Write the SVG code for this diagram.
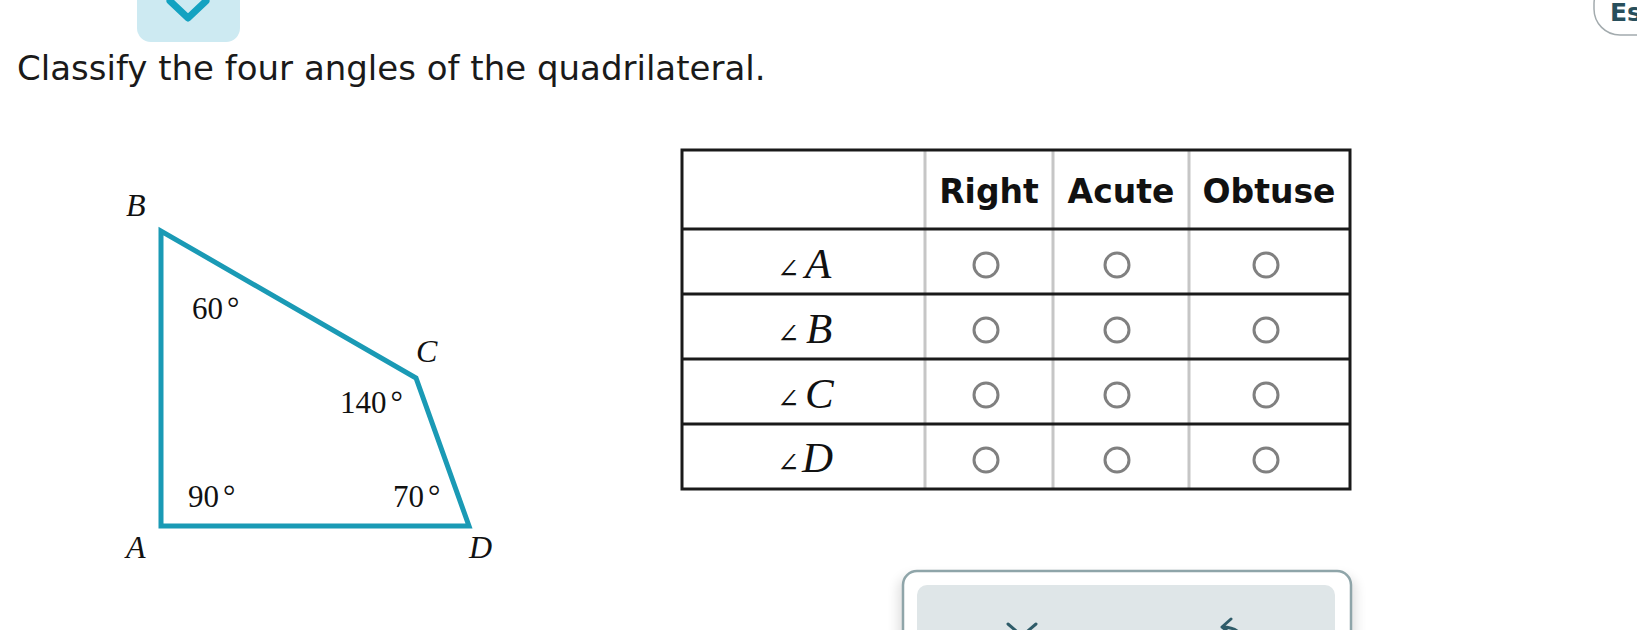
<svg xmlns="http://www.w3.org/2000/svg" width="1637" height="630" viewBox="0 0 1637 630">
<style>
.title{font-family:"DejaVu Sans","Verdana",sans-serif;font-size:34px;fill:#1a1a1a}
.hdr{font-family:"DejaVu Sans","Verdana",sans-serif;font-size:33px;font-weight:bold;fill:#111;text-anchor:middle}
.vlab{font-family:"Liberation Serif","Times New Roman",serif;font-style:italic;font-size:32px;fill:#111}
.deg{font-family:"Liberation Serif","Times New Roman",serif;font-size:31px;fill:#111}
.rowl{font-family:"Liberation Serif","Times New Roman",serif;font-style:italic;font-size:43px;fill:#111}
.ang{font-family:"DejaVu Serif",serif;font-size:27px;fill:#111}
.dark{stroke:#1a1a1a;stroke-width:3}
.grey{stroke:#c6c6c6;stroke-width:3}
.radio{fill:#fff;stroke:#808080;stroke-width:3}
.icon{fill:none;stroke:#2f5c69;stroke-width:3;stroke-linecap:round;stroke-linejoin:round}
</style>
<defs>
<filter id="sh" x="-10%" y="-50%" width="120%" height="200%"><feGaussianBlur stdDeviation="6"/></filter>
</defs>
<rect width="1637" height="630" fill="#fff"/>

<g id="collapse-button">
<rect x="137" y="-20" width="103" height="62" rx="14" fill="#cdeaf2"/>
<polyline points="170,1 188,18 206,1" fill="none" stroke="#13a2c1" stroke-width="7" stroke-linecap="round" stroke-linejoin="round"/>
</g>

<g id="lang-button">
<rect x="1594" y="-22" width="90" height="57" rx="26" fill="#fff" stroke="#a3abae" stroke-width="1.5"/>
<text x="1610" y="21" font-family="DejaVu Sans,Verdana,sans-serif" font-size="25" font-weight="bold" fill="#284f5c">Es</text>
</g>

<g id="title">
<text class="title" x="17" y="80">Classify the four angles of the quadrilateral.</text>
</g>

<g id="quadrilateral">
<polygon points="161,526 161,231 416,378 469,526" fill="none" stroke="#1a9ab5" stroke-width="5" stroke-linejoin="miter"/>
<text class="vlab" x="126" y="216">B</text>
<text class="vlab" x="416" y="362">C</text>
<text class="vlab" x="126" y="558">A</text>
<text class="vlab" x="469" y="558">D</text>
<text class="deg" x="192" y="319">60<tspan dx="4">°</tspan></text>
<text class="deg" x="340" y="413">140<tspan dx="4">°</tspan></text>
<text class="deg" x="188" y="507">90<tspan dx="4">°</tspan></text>
<text class="deg" x="393" y="507">70<tspan dx="4">°</tspan></text>
</g>

<g id="table">
<rect x="682" y="150" width="668" height="339" fill="#fff"/>
<line class="grey" x1="925" y1="150" x2="925" y2="489"/>
<line class="grey" x1="1053" y1="150" x2="1053" y2="489"/>
<line class="grey" x1="1189" y1="150" x2="1189" y2="489"/>
<line class="dark" x1="682" y1="229" x2="1350" y2="229"/>
<line class="dark" x1="682" y1="294" x2="1350" y2="294"/>
<line class="dark" x1="682" y1="359" x2="1350" y2="359"/>
<line class="dark" x1="682" y1="424" x2="1350" y2="424"/>
<rect x="682" y="150" width="668" height="339" fill="none" class="dark"/>
<text class="hdr" x="989" y="203">Right</text>
<text class="hdr" x="1121" y="203">Acute</text>
<text class="hdr" x="1269" y="203">Obtuse</text>

<g id="row-A">
<text class="ang" x="777" y="278">∠</text><text class="rowl" x="805" y="278">A</text>
<circle class="radio" cx="986" cy="265" r="12"/><circle class="radio" cx="1117" cy="265" r="12"/><circle class="radio" cx="1266" cy="265" r="12"/>
</g>
<g id="row-B">
<text class="ang" x="777" y="343">∠</text><text class="rowl" x="806" y="343">B</text>
<circle class="radio" cx="986" cy="330" r="12"/><circle class="radio" cx="1117" cy="330" r="12"/><circle class="radio" cx="1266" cy="330" r="12"/>
</g>
<g id="row-C">
<text class="ang" x="777" y="408">∠</text><text class="rowl" x="805" y="408">C</text>
<circle class="radio" cx="986" cy="395" r="12"/><circle class="radio" cx="1117" cy="395" r="12"/><circle class="radio" cx="1266" cy="395" r="12"/>
</g>
<g id="row-D">
<text class="ang" x="777" y="472">∠</text><text class="rowl" x="802" y="472">D</text>
<circle class="radio" cx="986" cy="460" r="12"/><circle class="radio" cx="1117" cy="460" r="12"/><circle class="radio" cx="1266" cy="460" r="12"/>
</g>
</g>

<g id="answer-panel">
<rect x="898" y="576" width="458" height="80" rx="14" fill="#000" opacity="0.12" filter="url(#sh)"/>
<rect x="903" y="571" width="448" height="80" rx="14" fill="#fff" stroke="#8fa5a9" stroke-width="2.5"/>
<rect x="917" y="585" width="418" height="60" rx="10" fill="#dfe6e8"/>
<path class="icon" d="M1008,624 L1022,636 M1036,624 L1022,636"/>
<path class="icon" d="M1231,619 L1222,627 L1231,634 M1222,627 Q1240,627 1242,640"/>
</g>
</svg>
